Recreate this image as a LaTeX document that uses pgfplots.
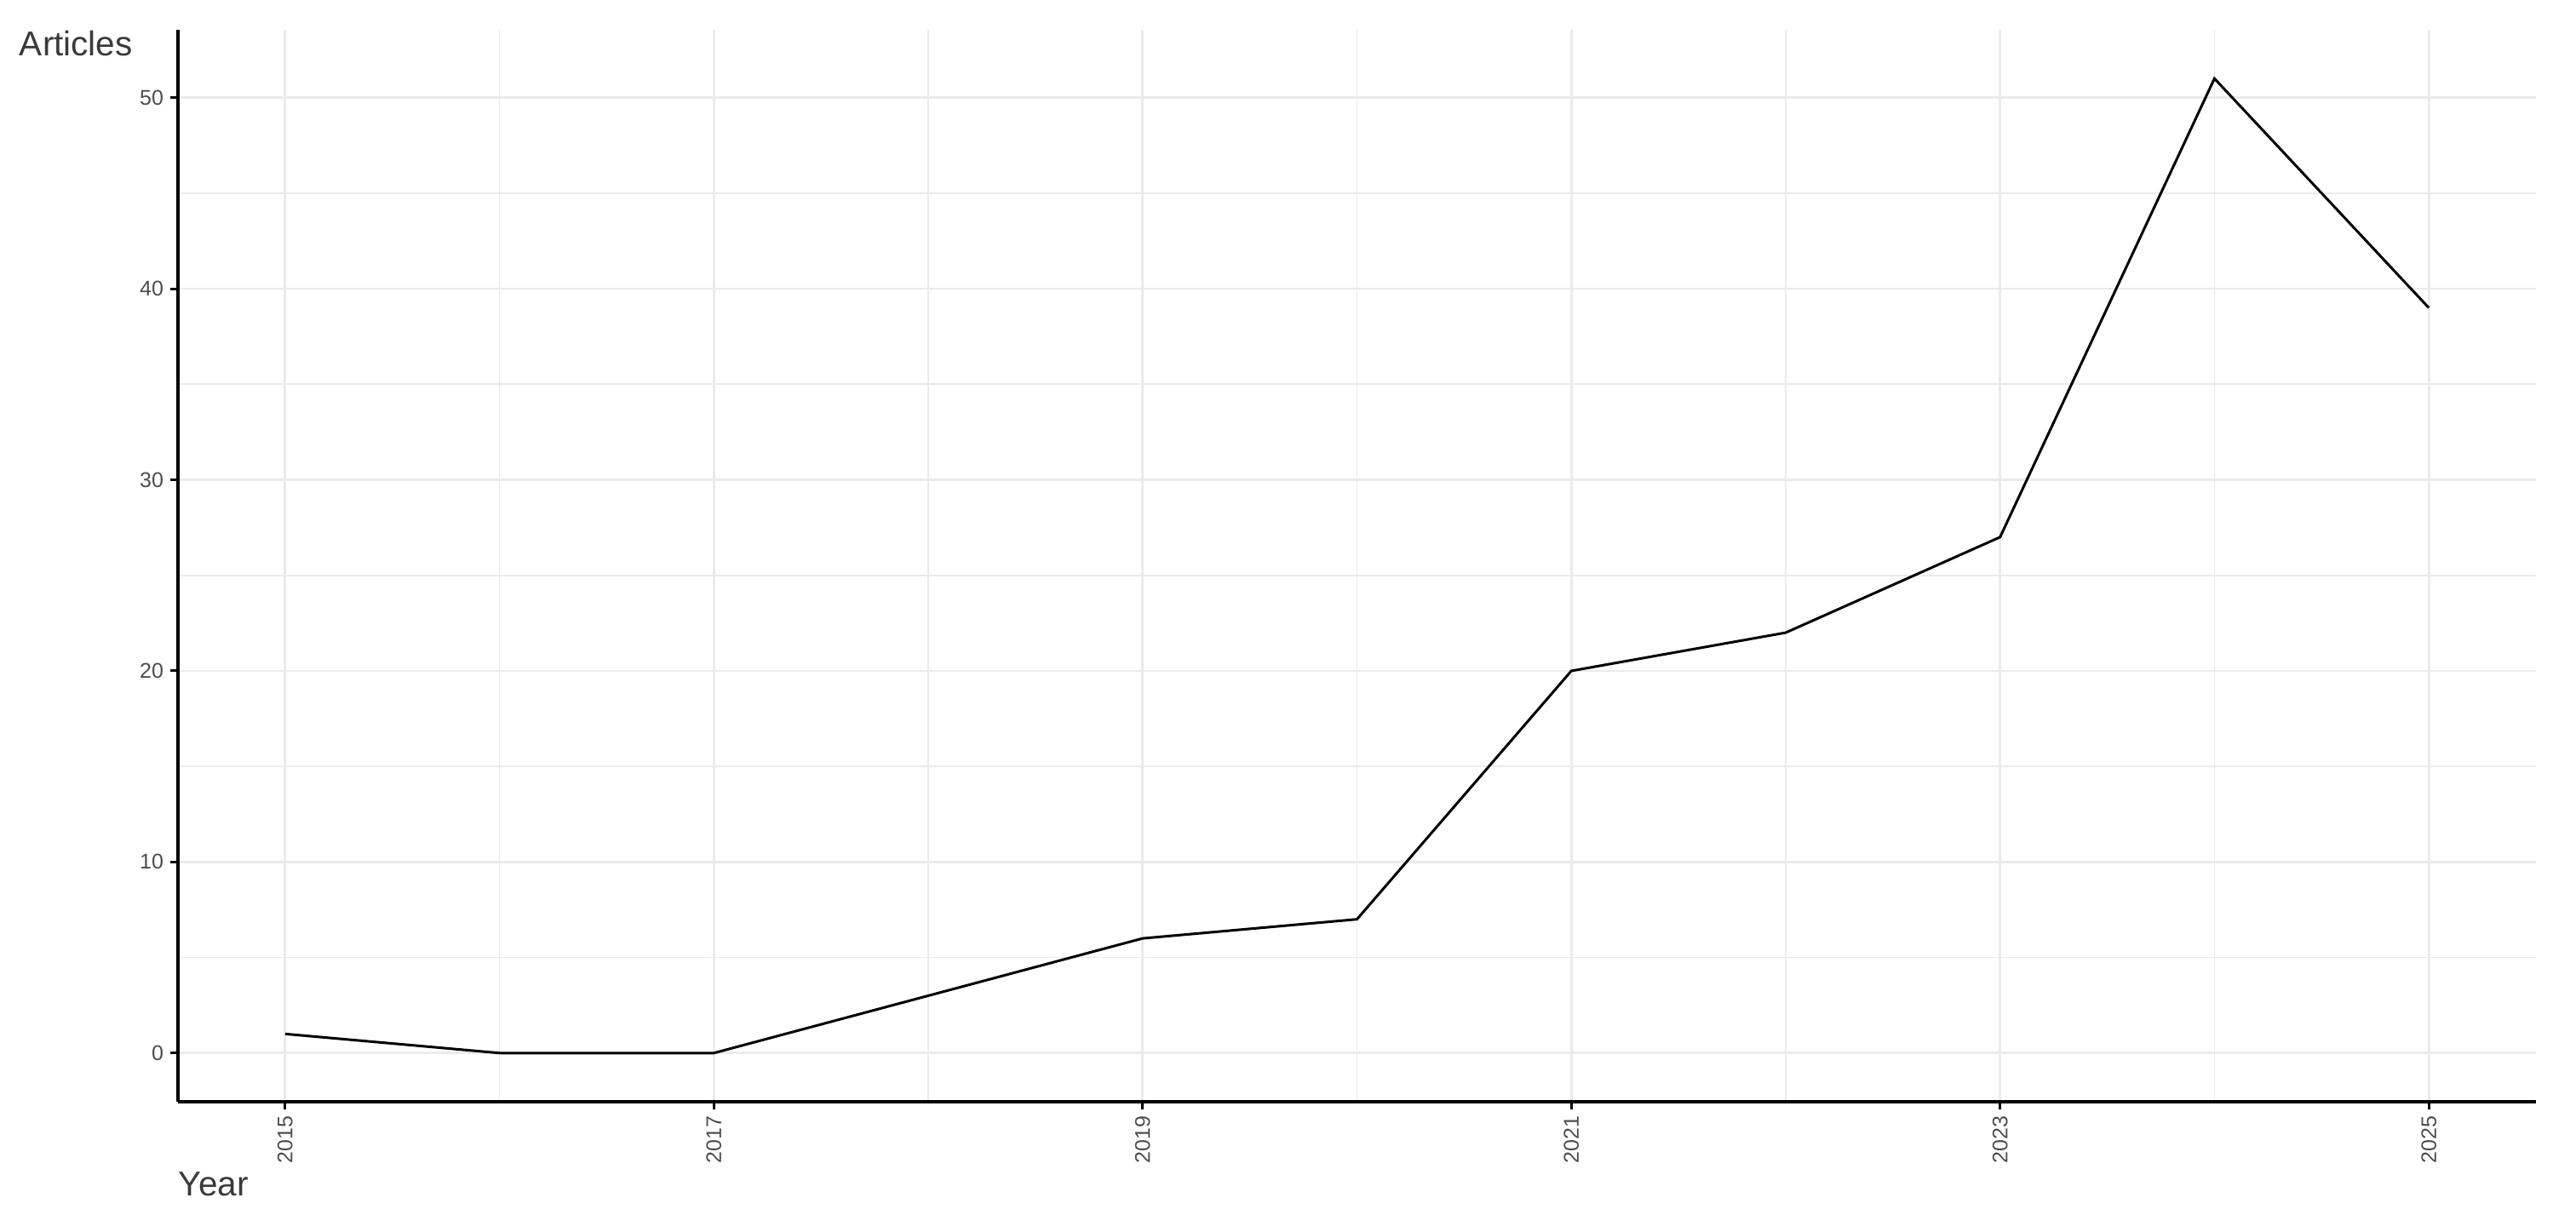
\documentclass[border=0pt]{standalone}
\usepackage{fontspec}
\setmainfont{Liberation Sans}
\usepackage{pgfplots}
\pgfplotsset{compat=1.18}

\definecolor{gridgray}{HTML}{EBEBEB}
\definecolor{ticktext}{HTML}{4D4D4D}
\definecolor{titletext}{HTML}{3A3A3A}

\begin{document}
\begin{tikzpicture}
\begin{axis}[
    scale only axis,
    width=553.8bp, height=251.8bp,
    xmin=2014.5, xmax=2025.5,
    ymin=-2.55, ymax=53.55,
    axis x line*=bottom, axis y line*=left,
    axis line style={line width=0.75bp, black},
    xtick={2015,2017,2019,2021,2023,2025},
    minor xtick={2016,2018,2020,2022,2024},
    ytick={0,10,20,30,40,50},
    minor ytick={5,15,25,35,45},
    grid=both,
    major grid style={gridgray, line width=0.55bp},
    minor grid style={gridgray, line width=0.35bp},
    tick align=outside,
    major tick length=1.8bp,
    minor tick length=0pt,
    tick style={black, line width=0.6bp},
    /pgf/number format/1000 sep={},
    /pgf/number format/assume math mode=true,
    tick label style={font=\fontsize{5bp}{6bp}\selectfont, text=ticktext, inner sep=0pt},
    yticklabel style={anchor=east, xshift=-1.4bp},
    xticklabel style={yshift=-1.4bp, rotate=90, anchor=east},
    xlabel={Year},
    xlabel style={font=\fontsize{8.1bp}{9.5bp}\selectfont, text=titletext, inner sep=0pt,
        at={(rel axis cs:0,0)}, anchor=base west, yshift=-22.2bp},
]
\addplot[black, line width=0.6bp] coordinates {
    (2015,1)(2016,0)(2017,0)(2018,3)(2019,6)(2020,7)
    (2021,20)(2022,22)(2023,27)(2024,51)(2025,39)
};
\end{axis}
\node[anchor=base west, inner sep=0pt, text=titletext,
    font=\fontsize{8.1bp}{9.5bp}\selectfont]
    at ([shift={(-37.4bp,-6bp)}]current axis.north west) {Articles};
\path ([shift={(-41.8bp,-26.6bp)}]current axis.south west)
    rectangle ([shift={(9.4bp,7bp)}]current axis.north east);
\end{tikzpicture}
\end{document}
